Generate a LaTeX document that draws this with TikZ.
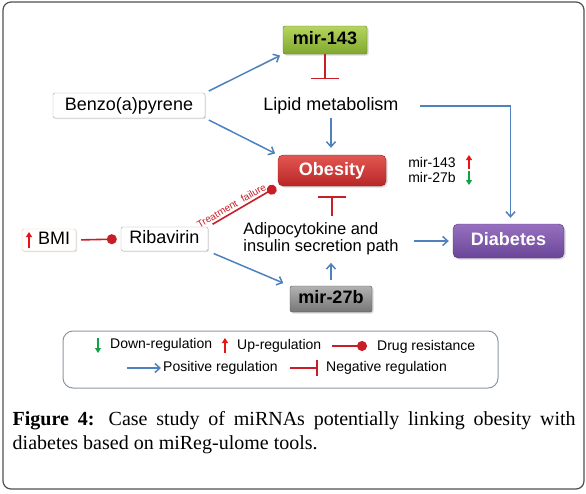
\documentclass[tikz,border=0pt]{standalone}
\usepackage{fontspec}
\setmainfont{Liberation Serif}
\setsansfont{Liberation Sans}
\usetikzlibrary{positioning,arrows.meta,shadows}
\definecolor{posblue}{RGB}{79,129,189}
\definecolor{negred}{RGB}{200,30,40}
\definecolor{upred}{RGB}{230,20,20}
\definecolor{downgreen}{RGB}{20,160,70}
\definecolor{greentop}{RGB}{182,212,95}
\definecolor{greenbot}{RGB}{128,168,45}
\definecolor{redtop}{RGB}{226,88,82}
\definecolor{redbot}{RGB}{184,38,38}
\definecolor{purptop}{RGB}{152,112,192}
\definecolor{purpbot}{RGB}{106,70,152}
\definecolor{graytop}{RGB}{178,178,178}
\definecolor{graybot}{RGB}{118,118,118}
\definecolor{framegray}{RGB}{80,80,80}
\definecolor{legendgray}{RGB}{140,150,162}
\definecolor{bmiorange}{RGB}{240,196,150}

\begin{document}
\begin{tikzpicture}[x=1pt, y=-1pt,
  lbl/.style={font=\sffamily\fontsize{18}{20}\selectfont, inner sep=2pt, text height=13pt, text depth=4pt},
  small/.style={font=\sffamily\fontsize{14}{15}\selectfont, inner sep=2pt},
  plainbox/.style={lbl, draw=gray!70, fill=white, rounded corners=2pt, drop shadow={opacity=0.25, shadow xshift=1pt, shadow yshift=-1pt}},
  mirbox/.style={lbl, font=\sffamily\bfseries\fontsize{18}{20}\selectfont, rounded corners=2pt, minimum width=84pt, minimum height=28pt, drop shadow={opacity=0.3, shadow xshift=1.5pt, shadow yshift=-1.5pt}},
  disbox/.style={mirbox, text=white, rounded corners=5pt},
  posreg/.style={draw=posblue, line width=1.5pt, -{Straight Barb[length=5pt,width=9pt]}},
  negreg/.style={draw=negred, line width=1.6pt, -{Bar[width=28pt,line width=1.8pt]}},
  drugres/.style={draw=negred, line width=1.6pt, -{Circle[length=10pt,fill=negred]}},
  upmark/.style={draw=upred, line width=1.6pt, -{Triangle[length=5pt,width=6pt]}},
  downmark/.style={draw=downgreen, line width=1.6pt, -{Triangle[length=5pt,width=6pt]}}
]
\useasboundingbox (0,0) rectangle (586,493);
\draw[framegray, line width=1.2pt, rounded corners=8pt] (3,2) rectangle (584,489);

\node[mirbox, draw=greenbot!70!black, top color=greentop, bottom color=greenbot] (m143) at (325,40) {mir-143};
\node[plainbox, minimum width=152pt, minimum height=25pt] (benzo) at (129,105.5) {Benzo(a)pyrene};
\node[lbl] (lipid) at (331,106) {Lipid metabolism};
\node[disbox, draw=redbot!80!black, top color=redtop, bottom color=redbot, minimum width=108pt, minimum height=31pt] (obesity) at (332,170.5) {Obesity};
\node[small, align=left] (mirs) at (432,169.5) {mir-143\\mir-27b};
\node[disbox, draw=purpbot!80!black, top color=purptop, bottom color=purpbot, minimum width=111pt, minimum height=34pt] (diabetes) at (508.5,241) {Diabetes};
\node[plainbox, draw=bmiorange, minimum width=54pt, minimum height=22pt] (bmi) at (49,240) {\hspace{10pt}BMI};
\node[plainbox, minimum width=87pt, minimum height=24pt] (rib) at (164.5,239) {Ribavirin};
\node[font=\sffamily\fontsize{16.5}{17}\selectfont, inner sep=2pt, align=left] (adipo) at (321,238.5) {Adipocytokine and\\insulin secretion path};
\node[mirbox, draw=graybot!70!black, top color=graytop, bottom color=graybot, minimum width=82pt, minimum height=26pt] (m27b) at (331,299) {mir-27b};

\draw[upmark] (469,169) -- (469,155);
\draw[downmark] (469,171) -- (469,185);
\draw[upmark] (29,248) -- (29,232);

\draw[posreg, shorten <=4pt, shorten >=3pt] (benzo.north east) -- (m143.south west);
\draw[posreg, shorten <=4pt, shorten >=3pt] (benzo.south east) -- (obesity.north west);
\draw[posreg, shorten <=1pt, shorten >=7pt] (lipid.south) -- (lipid.south |- obesity.north);
\draw[posreg, shorten <=19pt, shorten >=6pt] (lipid.east) -| ([xshift=2pt]diabetes.north);
\draw[negreg, shorten >=16pt] (m143.south) -- (m143.south |- lipid.north);
\draw[negreg, shorten <=4pt, shorten >=10pt] (obesity.south |- adipo.north) -- (obesity.south);
\draw[posreg, shorten <=6pt, shorten >=6pt] (m27b.north) -- (m27b.north |- adipo.south);
\draw[posreg, shorten <=13pt, shorten >=4pt] (adipo.east |- diabetes.west) -- (diabetes.west);
\draw[posreg, shorten <=6pt, shorten >=7pt] (rib.south east) -- (m27b.north west);
\draw[drugres, shorten <=5pt, shorten >=2pt] (rib.north east) -- node[sloped, above, pos=0.38, inner sep=2pt, text=negred, font=\sffamily\fontsize{10}{11}\selectfont] (fail) {Treatment\ \ failure} (obesity.south west);
\draw[drugres, shorten <=5pt, shorten >=4pt] (bmi.east) -- (rib.west);

\node[draw=legendgray, line width=1pt, rounded corners=10pt, minimum width=435pt, minimum height=57pt] (legend) at (280.5,359.5) {};
\coordinate (dn1) at (98,338);
\coordinate (dn2) at (98,353);
\coordinate (up1) at (225,353);
\coordinate (up2) at (225,338);
\coordinate (dr1) at (332,346);
\coordinate (dr2) at (367,346);
\coordinate (pr1) at (127,368);
\coordinate (pr2) at (161,368);
\coordinate (nr1) at (290,368);
\coordinate (nr2) at (318,368);
\draw[downmark] (dn1) -- (dn2);
\draw[upmark] (up1) -- (up2);
\draw[drugres] (dr1) -- (dr2);
\draw[posreg] (pr1) -- (pr2);
\draw[negreg, -{Bar[width=16pt,line width=1.8pt]}] (nr1) -- (nr2);
\node[small, anchor=west] (downtxt) at (108,345) {Down-regulation};
\node[small, anchor=west] (uptxt) at (235,346) {Up-regulation};
\node[small, anchor=west] (drtxt) at (375,347) {Drug resistance};
\node[small, anchor=west] (prtxt) at (161,368) {Positive regulation};
\node[small, anchor=west] (nrtxt) at (324,368) {Negative regulation};

\node[anchor=north west, inner sep=0pt, text width=563pt, align=justify, font=\fontsize{20}{24}\selectfont] (caption) at (12.5,411) {\textbf{Figure 4:} Case study of miRNAs potentially linking obesity with \mbox{diabetes} based on miReg-ulome tools.};
\end{tikzpicture}
\end{document}
